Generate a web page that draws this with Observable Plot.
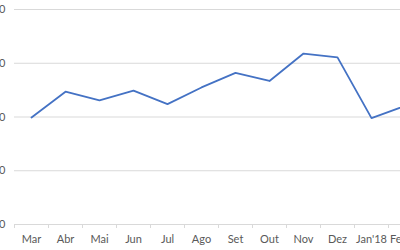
<!DOCTYPE html>
<html>
<head>
<meta charset="utf-8">
<script src="https://cdn.jsdelivr.net/npm/d3@7"></script>
<script src="https://cdn.jsdelivr.net/npm/@observablehq/plot@0.6"></script>
<style>
  html, body { margin: 0; padding: 0; background: #fff; overflow: hidden; width: 400px; height: 250px; }
  svg { overflow: hidden; }
</style>
</head>
<body>
<div id="chart"></div>
<script>
const months = ["Mar", "Abr", "Mai", "Jun", "Jul", "Ago", "Set", "Out", "Nov", "Dez", "Jan'18", "Fev"];
const values = [199, 247, 231, 249, 224, 255, 282, 267, 318, 311, 198, 221];
const yTicks = [0, 100, 200, 300, 400];

const data = months.map((m, i) => ({month: m, value: values[i]}));

const chart = Plot.plot({
  width: 400,
  height: 250,
  marginTop: 9,
  marginBottom: 26,
  marginLeft: 14,
  marginRight: 0,
  style: {fontFamily: "Lato, sans-serif", fontSize: "11px", color: "#595959", background: "#fff", overflow: "hidden"},
  x: {type: "point", domain: months, range: [31, 405], padding: 0, label: null},
  y: {domain: [0, 400], range: [224, 9], label: null},
  marks: [
    Plot.ruleY(yTicks.slice(1), {stroke: "#d9d9d9", strokeWidth: 1}),
    Plot.ruleY([0], {stroke: "#d9d9d9", strokeWidth: 1}),
    Plot.axisX({ticks: months, tickSize: 4, dx: -17, text: null, stroke: "#d9d9d9", label: null}),
    Plot.axisX({ticks: months.slice(0, -1), tickSize: 0, tickPadding: 11, fill: "#595959", label: null}),
    Plot.axisX({ticks: months.slice(-1), tickSize: 0, tickPadding: 11, dx: -7, fill: "#595959", label: null}),
    Plot.axisY({ticks: yTicks, tickSize: 0, tickPadding: 9, textAnchor: "end", fill: "#595959", label: null}),
    Plot.line(data, {x: "month", y: "value", stroke: "#4472c4", strokeWidth: 1.8, strokeLinejoin: "round"})
  ]
});
document.getElementById("chart").appendChild(chart);
</script>
</body>
</html>
